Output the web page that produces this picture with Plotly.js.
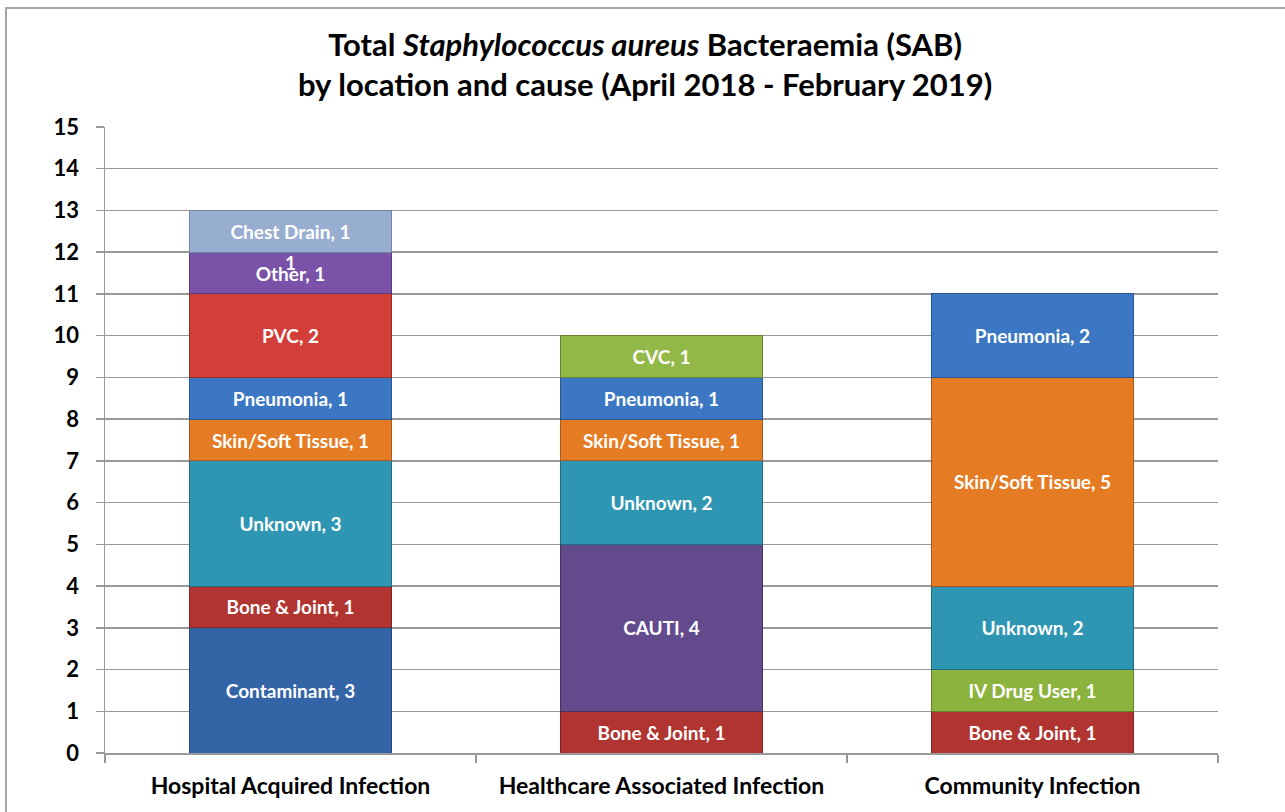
<!DOCTYPE html>
<html>
<head>
<meta charset="utf-8">
<script src="https://cdn.plot.ly/plotly-3.0.1.min.js"></script>
<style>
html,body{margin:0;padding:0;overflow:hidden;background:#fff;}
#frame{position:absolute;left:5px;top:7px;width:1300px;height:830px;border:2px solid #a6a6a6;box-sizing:border-box;pointer-events:none;z-index:5;}
#chart{position:absolute;left:0;top:0;width:1285px;height:812px;}
</style>
</head>
<body>
<div id="chart"></div>
<div id="frame"></div>
<script>
const categories = ["Hospital Acquired Infection", "Healthcare Associated Infection", "Community Infection"];
const seriesNames = ["Contaminant", "Bone & Joint", "CAUTI", "IV Drug User", "Unknown", "Skin/Soft Tissue", "Pneumonia", "CVC", "PVC", "Other", "Chest Drain"];
const contaminant = [3, null, null];
const boneJoint = [1, 1, 1];
const cauti = [null, 4, null];
const ivDrugUser = [null, null, 1];
const unknown = [3, 2, 2];
const skinSoftTissue = [1, 1, 5];
const pneumonia = [1, 1, 2];
const cvc = [null, 1, null];
const pvc = [2, null, null];
const other = [1, null, null];
const chestDrain = [1, null, null];
const yTicks = [0,1,2,3,4,5,6,7,8,9,10,11,12,13,14,15];

const seriesValues = [contaminant, boneJoint, cauti, ivDrugUser, unknown, skinSoftTissue, pneumonia, cvc, pvc, other, chestDrain];
const fillColors = ["#3264a6", "#b0342f", "#634a8d", "#8cb33e", "#2e96b2", "#e57c24", "#3b77c3", "#92b847", "#d33e38", "#7a52a8", "#98aed0"];
const edgeColors = ["#23497c", "#7f2421", "#45325f", "#648129", "#1f6c81", "#a8591a", "#29568e", "#688432", "#992b27", "#573a79", "#6f86a8"];

const font = "Lato, 'Open Sans', sans-serif";

const traces = seriesNames.map((name, i) => ({
  type: "bar",
  name: name,
  x: categories,
  y: seriesValues[i],
  text: seriesValues[i].map(v => v == null ? "" : name + ", " + v),
  textposition: "inside",
  insidetextanchor: "middle",
  textangle: 0,
  constraintext: "none",
  textfont: {family: font, size: 19, color: "#ffffff", weight: "bold"},
  marker: {color: fillColors[i], line: {color: edgeColors[i], width: 1}},
  width: 0.545,
  hoverinfo: "x+y+name"
}));

const layout = {
  width: 1285,
  height: 812,
  barmode: "stack",
  showlegend: false,
  paper_bgcolor: "#ffffff",
  plot_bgcolor: "#ffffff",
  margin: {l: 105, r: 67, t: 127, b: 59},
  title: {
    text: "Total <i>Staphylococcus aureus</i> Bacteraemia (SAB)<br>by location and cause (April 2018 - February 2019)",
    font: {family: font, size: 31, color: "#000000", weight: "bold"},
    xref: "container", x: 0.502, xanchor: "center",
    yref: "container", y: 0.931, yanchor: "middle"
  },
  xaxis: {
    type: "category",
    showgrid: false,
    showline: true,
    linecolor: "#999999",
    linewidth: 1.5,
    ticks: "outside",
    tickson: "boundaries",
    ticklen: 8,
    tickcolor: "#999999",
    tickwidth: 1.5,
    ticklabelstandoff: 12,
    tickfont: {family: font, size: 23, color: "#000000", weight: "bold"},
    automargin: false
  },
  yaxis: {
    range: [0, 15],
    tickvals: yTicks,
    ticktext: yTicks.map(String),
    showgrid: true,
    gridcolor: "#999999",
    gridwidth: 1.5,
    showline: true,
    linecolor: "#999999",
    linewidth: 1.5,
    ticks: "outside",
    ticklen: 8,
    tickcolor: "#999999",
    tickwidth: 1.5,
    ticklabelstandoff: 12,
    tickfont: {family: font, size: 22, color: "#000000", weight: "bold"},
    zeroline: false,
    automargin: false
  },
  annotations: [{
    x: categories[0], y: 11.75, xref: "x", yref: "y",
    text: "1", showarrow: false,
    font: {family: font, size: 19, color: "#ffffff", weight: "bold"}
  }]
};

Plotly.newPlot("chart", traces, layout, {displayModeBar: false, staticPlot: true});
</script>
</body>
</html>
